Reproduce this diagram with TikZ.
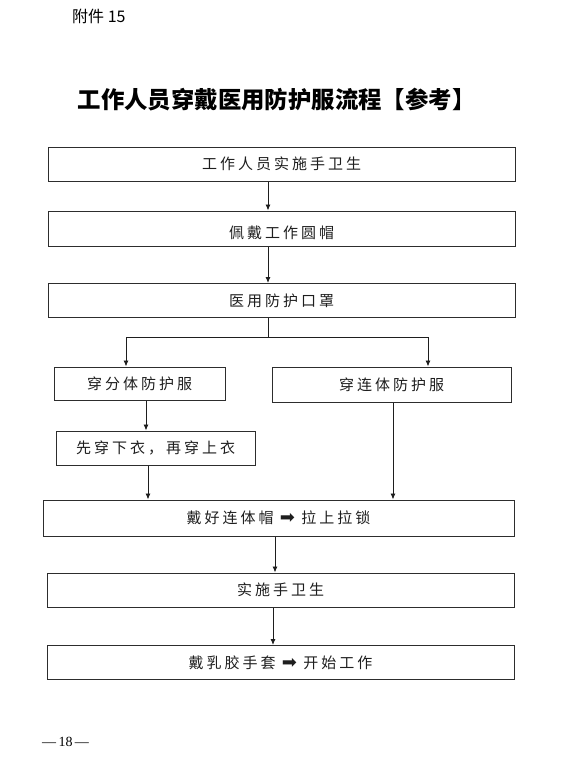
\documentclass[tikz,border=0pt]{standalone}
\usepackage{fontspec}
\usepackage{tikz}
\usetikzlibrary{positioning, arrows.meta}
\setmainfont{Liberation Serif}
\newfontfamily\cjk[LetterSpace=20]{Noto Sans CJK SC}
\newfontfamily\cjkhead{Noto Sans CJK SC}
\newfontfamily\symfont{DejaVu Sans}
\definecolor{InkBlack}{RGB}{30,30,30}
\definecolor{FrameGray}{RGB}{45,45,45}
\tikzset{
  flowbox/.style={draw=FrameGray, line width=1pt, minimum height=34pt, inner sep=0pt,
    font=\cjk\fontsize{15}{17}\selectfont, text=InkBlack, align=center},
  arr/.style={-{Latex[length=6pt, width=5pt]}, line width=0.9pt, InkBlack},
  seg/.style={line width=0.9pt, InkBlack},
}
\newcommand{\thickarr}{{\symfont\fontsize{18}{18}\selectfont ➡}}

\begin{document}
\begin{tikzpicture}[x=1pt, y=-1pt]
  \useasboundingbox (0,0) rectangle (571,766);
  % heading
  \node[anchor=west, font=\cjkhead\fontsize{16}{18}\selectfont, inner sep=0pt] (att) at (72,16) {附件 15};
  \node[font=\cjkhead\bfseries\fontsize{23.4}{26}\selectfont, inner sep=0pt] (title) at (276.5,100) {工作人员穿戴医用防护服流程【参考】};
  % steps
  \node[flowbox, minimum width=467pt] (hand1) at (281.5,164) {工作人员实施手卫生};
  \node[flowbox, minimum width=467pt, minimum height=35pt, text height=22pt, text depth=1.8pt] (cap) at (281.5,228.5) {佩戴工作圆帽};
  \node[flowbox, minimum width=467pt] (mask) at (281.5,300.5) {医用防护口罩};
  \node[flowbox, minimum width=171pt, minimum height=33pt] (split) at (139.5,383.5) {穿分体防护服};
  \node[flowbox, minimum width=239pt, minimum height=35pt] (whole) at (391.5,384.5) {穿连体防护服};
  \node[flowbox, minimum width=199pt] (order) at (155.5,448) {先穿下衣，再穿上衣};
  \node[flowbox, minimum width=471pt, minimum height=36pt] (zip) at (278.5,518) {戴好连体帽 \thickarr\ 拉上拉锁};
  \node[flowbox, minimum width=467pt] (hand2) at (280.5,590) {实施手卫生};
  \node[flowbox, minimum width=467pt] (glove) at (280.5,662.5) {戴乳胶手套 \thickarr\ 开始工作};
  % connectors
  \coordinate (fork) at (268,337);
  \coordinate (odrop) at ([xshift=-7.5pt]order.south);
  \coordinate (wdrop) at ([xshift=1.5pt]whole.south);
  \coordinate (zdrop) at ([xshift=-3.5pt]zip.south);
  \draw[arr] ([xshift=-13.5pt]hand1.south) -- ([xshift=-13.5pt]cap.north);
  \draw[arr] ([xshift=-13.5pt]cap.south) -- ([xshift=-13.5pt]mask.north);
  \draw[seg] (mask.south -| fork) -- (fork);
  \draw[arr] (fork) -| ([xshift=-13.5pt]split.north);
  \draw[arr] (fork) -| ([xshift=36.5pt]whole.north);
  \draw[arr] ([xshift=6.5pt]split.south) -- ([xshift=-9.5pt]order.north);
  \draw[arr] (odrop) -- (zip.north -| odrop);
  \draw[arr] (wdrop) -- (zip.north -| wdrop);
  \draw[arr] (zdrop) -- (hand2.north -| zdrop);
  \draw[arr] ([xshift=-7.5pt]hand2.south) -- ([xshift=-7.5pt]glove.north);
  % page number
  \node[anchor=west, font=\fontsize{14}{16}\selectfont, inner sep=0pt] (page) at (42,742) {—\,18\,—};
\end{tikzpicture}
\end{document}
